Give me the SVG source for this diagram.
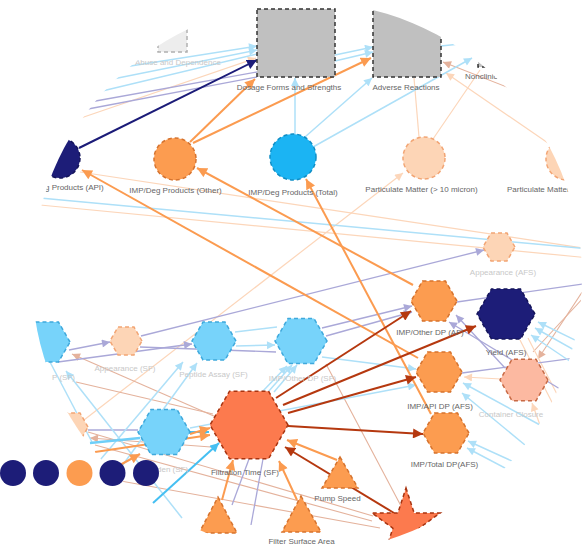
<svg xmlns="http://www.w3.org/2000/svg" width="582" height="550" viewBox="0 0 582 550">
<style>
.n{stroke-width:1.5;stroke-dasharray:4 3}
.orange{fill:#fc9c50;stroke:#d6732e}
.peach{fill:#fdd5b6;stroke:#f2a574}
.lblue{fill:#77d3fa;stroke:#3fa9dc}
.bblue{fill:#1bb4f3;stroke:#0e8ec6}
.navy{fill:#1d1d78;stroke:#14145a}
.coral{fill:#fc7a4e;stroke:#a8330f}
.salmon{fill:#fcb9a1;stroke:#c86a45}
.silver{fill:#c0c0c0;stroke:#333}
.fsilver{fill:#ededed;stroke:#b0b0b0}
.t{font-family:"Liberation Sans",Arial,sans-serif;font-size:8px;fill:#666;text-anchor:middle}
.s{text-anchor:start}
.f{fill:#c8c8c8}
.e{fill:none}
.red{stroke:#b5380f;stroke-width:2;marker-end:url(#mr)}
.or{stroke:#fb9b50;stroke-width:2}
.ora{marker-end:url(#mo)}
.nv{stroke:#1b1b78;stroke-width:2;marker-end:url(#mn)}
.lb{stroke:#aee0f8;stroke-width:1.5}
.lba{marker-end:url(#mlb)}
.bb{stroke:#45bff2;stroke-width:2}
.bba{marker-end:url(#mbb)}
.pu{stroke:#aaa8d8;stroke-width:1.3}
.pua{marker-end:url(#mpu)}
.pe{stroke:#fcd6ba;stroke-width:1.2}
.pea{marker-end:url(#mpe)}
.sa{stroke:#e4b29c;stroke-width:1.1}
.saa{marker-end:url(#msa)}
</style>
<defs>
<clipPath id="view"><circle cx="307" cy="277" r="275"/></clipPath>
<marker id="mr" viewBox="0 0 10 10" refX="10" refY="5" markerWidth="11" markerHeight="10" markerUnits="userSpaceOnUse" orient="auto"><path d="M0,0 L10,5 L0,10 z" fill="#b5380f"/></marker>
<marker id="mo" viewBox="0 0 10 10" refX="10" refY="5" markerWidth="11" markerHeight="10" markerUnits="userSpaceOnUse" orient="auto"><path d="M0,0 L10,5 L0,10 z" fill="#fb9b50"/></marker>
<marker id="mn" viewBox="0 0 10 10" refX="10" refY="5" markerWidth="11" markerHeight="10" markerUnits="userSpaceOnUse" orient="auto"><path d="M0,0 L10,5 L0,10 z" fill="#1b1b78"/></marker>
<marker id="mlb" viewBox="0 0 10 10" refX="10" refY="5" markerWidth="9" markerHeight="8" markerUnits="userSpaceOnUse" orient="auto"><path d="M0,0 L10,5 L0,10 z" fill="#aee0f8"/></marker>
<marker id="mbb" viewBox="0 0 10 10" refX="10" refY="5" markerWidth="10" markerHeight="9" markerUnits="userSpaceOnUse" orient="auto"><path d="M0,0 L10,5 L0,10 z" fill="#45bff2"/></marker>
<marker id="mpu" viewBox="0 0 10 10" refX="10" refY="5" markerWidth="9" markerHeight="8" markerUnits="userSpaceOnUse" orient="auto"><path d="M0,0 L10,5 L0,10 z" fill="#aaa8d8"/></marker>
<marker id="mpe" viewBox="0 0 10 10" refX="10" refY="5" markerWidth="9" markerHeight="8" markerUnits="userSpaceOnUse" orient="auto"><path d="M0,0 L10,5 L0,10 z" fill="#fcd6ba"/></marker>
<marker id="msa" viewBox="0 0 10 10" refX="10" refY="5" markerWidth="9" markerHeight="8" markerUnits="userSpaceOnUse" orient="auto"><path d="M0,0 L10,5 L0,10 z" fill="#e4b29c"/></marker>
</defs>
<rect width="582" height="550" fill="#fff"/>
<g clip-path="url(#view)">
<g id="connectors" fill="none">
<!-- peach / salmon faint -->
<line class="pe" x1="40" y1="205" x2="590" y2="258"/>
<line class="pe" x1="80" y1="172" x2="590" y2="249"/>
<line class="pe pea" x1="78" y1="119" x2="256" y2="58"/>
<line class="pe" x1="419" y1="137" x2="414" y2="78"/>
<line class="pe" x1="433" y1="139" x2="480" y2="70"/>
<line class="pe pea" x1="548" y1="143" x2="446" y2="73"/>
<line class="sa saa" x1="540" y1="100" x2="443" y2="62"/>
<line class="pe pea" x1="84" y1="420" x2="403" y2="173"/>
<line class="sa saa" x1="590" y1="280" x2="538" y2="359"/>
<line class="sa" x1="585" y1="296" x2="533" y2="352"/>
<line class="pe" x1="528" y1="338" x2="560" y2="400"/>
<line class="pe" x1="520" y1="340" x2="556" y2="410"/>
<line class="pe pea" x1="501" y1="379" x2="464" y2="377"/>
<line class="pe pea" x1="540" y1="425" x2="532" y2="403"/>
<line class="sa saa" x1="232" y1="424" x2="72" y2="354"/>
<line class="sa" x1="213" y1="414" x2="76" y2="382"/>
<line class="sa" x1="326" y1="364" x2="401" y2="506"/>
<line class="sa" x1="88" y1="432" x2="373" y2="516"/>
<line class="sa" x1="95" y1="445" x2="372" y2="521"/>
<line class="sa" x1="60" y1="470" x2="380" y2="528"/>
<line class="sa saa" x1="211" y1="447" x2="90" y2="438"/>
<!-- purple -->
<line class="pu" x1="90" y1="102" x2="257" y2="72"/>
<line class="pu" x1="88" y1="109" x2="257" y2="77"/>
<line class="pu pua" x1="69" y1="350" x2="110" y2="342"/>
<line class="pu pua" x1="58" y1="362" x2="192" y2="344"/>
<line class="pu pua" x1="141" y1="336" x2="484" y2="250"/>
<line class="pu" x1="140" y1="347" x2="276" y2="352"/>
<line class="pu pua" x1="322" y1="328" x2="412" y2="306"/>
<line class="pu pua" x1="326" y1="336" x2="412" y2="312"/>
<line class="pu" x1="590" y1="283" x2="457" y2="302"/>
<line class="pu pua" x1="505" y1="368" x2="456" y2="315"/>
<line class="pu pua" x1="565" y1="392" x2="449" y2="322"/>
<line class="pu" x1="462" y1="373" x2="590" y2="356"/>
<line class="pu" x1="88" y1="430" x2="138" y2="430"/>
<line class="pu" x1="232" y1="505" x2="249" y2="459"/>
<line class="pu" x1="251" y1="525" x2="263" y2="459"/>
<!-- light blue -->
<line class="lb" x1="40" y1="198" x2="590" y2="249"/>
<line class="lb lba" x1="118" y1="68" x2="257" y2="46"/>
<line class="lb lba" x1="108" y1="80" x2="257" y2="50"/>
<line class="lb" x1="98" y1="92" x2="257" y2="54"/>
<line class="lb lba" x1="335" y1="55" x2="373" y2="47"/>
<line class="lb lba" x1="335" y1="61" x2="373" y2="52"/>
<line class="lb" x1="441" y1="46" x2="460" y2="44"/>
<line class="lb lba" x1="295" y1="134" x2="295" y2="78"/>
<line class="lb lba" x1="305" y1="137" x2="372" y2="78"/>
<line class="lb lba" x1="313" y1="147" x2="472" y2="58"/>
<line class="lb" x1="235" y1="332" x2="277" y2="327"/>
<line class="lb lba" x1="236" y1="346" x2="275" y2="345"/>
<line class="lb lba" x1="322" y1="357" x2="416" y2="369"/>
<line class="lb lba" x1="190" y1="428" x2="416" y2="385"/>
<line class="lb lba" x1="262" y1="392" x2="287" y2="366"/>
<line class="lb lba" x1="268" y1="392" x2="292" y2="365"/>
<line class="lb lba" x1="274" y1="392" x2="297" y2="365"/>
<line class="lb lba" x1="95" y1="466" x2="183" y2="362"/>
<line class="lb lba" x1="122" y1="466" x2="197" y2="363"/>
<line class="lb" x1="50" y1="362" x2="92" y2="442"/>
<line class="lb lba" x1="182" y1="518" x2="66" y2="371"/>
<line class="lb lba" x1="585" y1="345" x2="538" y2="322"/>
<line class="lb lba" x1="585" y1="356" x2="535" y2="328"/>
<line class="lb lba" x1="580" y1="368" x2="531" y2="335"/>
<line class="lb lba" x1="540" y1="425" x2="463" y2="383"/>
<line class="lb lba" x1="525" y1="445" x2="462" y2="393"/>
<line class="lb lba" x1="525" y1="467" x2="468" y2="441"/>
<line class="lb lba" x1="520" y1="476" x2="467" y2="448"/>
<line stroke="#6fcff8" stroke-width="2.5" x1="90" y1="443" x2="140" y2="438"/>
<!-- bright blue -->
<line class="bb bba" x1="190" y1="432" x2="209" y2="432"/>
<line class="bb bba" x1="153" y1="503" x2="219" y2="443"/>
<!-- orange -->
<line class="or ora" x1="190" y1="142" x2="255" y2="79"/>
<line class="or ora" x1="193" y1="143" x2="371" y2="58"/>
<line class="or ora" x1="418" y1="358" x2="82" y2="170"/>
<line class="or ora" x1="413" y1="285" x2="197" y2="168"/>
<line class="or ora" x1="431" y1="414" x2="306" y2="179"/>
<line class="or ora" x1="297" y1="500" x2="279" y2="461"/>
<line class="or ora" x1="337" y1="460" x2="287" y2="440"/>
<line class="or ora" x1="222" y1="500" x2="233" y2="460"/>
<line class="or ora" x1="190" y1="434" x2="210" y2="428"/>
<line class="or ora" x1="95" y1="452" x2="210" y2="435"/>
<line class="or ora" x1="100" y1="476" x2="140" y2="454"/>
<!-- navy -->
<line class="nv" x1="79" y1="148" x2="257" y2="60"/>
<!-- dark red -->
<line class="red" x1="276" y1="398" x2="411" y2="311"/>
<line class="red" x1="283" y1="405" x2="476" y2="326"/>
<line class="red" x1="288" y1="413" x2="416" y2="377"/>
<line class="red" x1="288" y1="426" x2="423" y2="434"/>
<line class="red" x1="394" y1="513" x2="285" y2="447"/>
</g>
<g id="n-abuse"><rect class="n fsilver" x="158" y="23" width="29" height="29"/><text class="t f s" x="135" y="65">Abuse and Dependence</text></g>
<g id="n-dosage"><rect class="n silver" x="257" y="9" width="78" height="68"/><text class="t" x="289" y="90">Dosage Forms and Strengths</text></g>
<g id="n-adverse"><rect class="n silver" x="373" y="9" width="68" height="68"/><text class="t" x="406" y="90">Adverse Reactions</text></g>
<g id="n-nonclinical"><rect class="n silver" x="478" y="20" width="47" height="47"/><text class="t s" x="465" y="79">Nonclinical</text></g>
<g id="n-deg-api"><circle class="n navy" cx="60" cy="158" r="20"/><text class="t s" x="45" y="190">g Products (API)</text></g>
<g id="n-deg-other"><circle class="n orange" cx="175" cy="159" r="21"/><text class="t" x="175.5" y="193">IMP/Deg Products (Other)</text></g>
<g id="n-deg-total"><circle class="n bblue" cx="293" cy="157" r="23"/><text class="t" x="293" y="195">IMP/Deg Products (Total)</text></g>
<g id="n-pm10"><circle class="n peach" cx="424" cy="158" r="21"/><text class="t" x="421.5" y="192">Particulate Matter (&gt; 10 micron)</text></g>
<g id="n-pm25"><circle class="n peach" cx="567" cy="159" r="21"/><text class="t s" x="507" y="192">Particulate Matter</text></g>
<g id="n-app-afs"><polygon class="n peach" points="515,247 507,233.1 491,233.1 483,247 491,260.9 507,260.9"/><text class="t f" x="503" y="275">Appearance (AFS)</text></g>
<g id="n-other-af"><polygon class="n orange" points="457,301 445.5,281.1 422.5,281.1 411,301 422.5,320.9 445.5,320.9"/><text class="t" x="430" y="335">IMP/Other DP (AF)</text></g>
<g id="n-yield"><polygon class="n navy" points="535,314 520.5,288.9 491.5,288.9 477,314 491.5,339.1 520.5,339.1"/><text class="t" x="506" y="355">Yield (AFS)</text></g>
<g id="n-api-afs"><polygon class="n orange" points="462,372 450.5,352.1 427.5,352.1 416,372 427.5,391.9 450.5,391.9"/><text class="t" x="440" y="409">IMP/API DP (AFS)</text></g>
<g id="n-closure"><polygon class="n salmon" points="548,380 536,359.2 512,359.2 500,380 512,400.8 536,400.8"/><text class="t f" x="511" y="417">Container Closure</text></g>
<g id="n-total-afs"><polygon class="n orange" points="469,433 457.5,413.1 434.5,413.1 423,433 434.5,452.9 457.5,452.9"/><text class="t" x="444.5" y="467">IMP/Total DP(AFS)</text></g>
<g id="n-api-sf"><polygon class="n lblue" points="70,342 58.5,322.1 35.5,322.1 24,342 35.5,361.9 58.5,361.9"/><text class="t f s" x="52" y="380">P (SF)</text></g>
<g id="n-app-sf"><polygon class="n peach" points="142,341 134,327.1 118,327.1 110,341 118,354.9 134,354.9"/><text class="t f" x="125" y="371">Appearance (SF)</text></g>
<g id="n-peptide"><polygon class="n lblue" points="236,341 225,322 203,322 192,341 203,360 225,360"/><text class="t f" x="213.5" y="377">Peptide Assay (SF)</text></g>
<g id="n-other-sf"><polygon class="n lblue" points="327,341 314,318.5 288,318.5 275,341 288,363.5 314,363.5"/><text class="t f" x="302.5" y="381">IMP/Other DP (SF)</text></g>
<g id="n-small"><polygon class="n peach" points="88,427 80,413 64,413 56,427 64,441 80,441"/></g>
<g id="n-bioburden"><polygon class="n lblue" points="190,432 177,409.5 151,409.5 138,432 151,454.5 177,454.5"/><text class="t f s" x="157" y="472">den (SF)</text></g>
<g id="n-filtration"><polygon class="n coral" points="288,425 268.5,391.2 229.5,391.2 210,425 229.5,458.8 268.5,458.8"/><text class="t" x="245" y="475">Filtration Time (SF)</text></g>
<g id="n-pump"><polygon class="n orange" points="340,457 358,488 322,488"/><text class="t" x="337.5" y="501">Pump Speed</text></g>
<g id="n-filter"><polygon class="n orange" points="301,496 321,532 282,532"/><text class="t" x="301.5" y="544">Filter Surface Area</text></g>
<g id="n-tri3"><polygon class="n orange" points="218,497 237,533 199,533"/></g>
<g id="n-star"><polygon class="n coral" points="406,488 414.1,512.9 440.2,512.9 419.1,528.2 427.2,553.1 406,537.8 384.8,553.1 392.9,528.2 371.8,512.9 397.9,512.9"/></g>
</g>
<g id="legend">
<circle cx="13" cy="473" r="13" fill="#1d1d78"/>
<circle cx="46" cy="473" r="13" fill="#1d1d78"/>
<circle cx="79.5" cy="473" r="13" fill="#fc9c50"/>
<circle cx="112.5" cy="473" r="13" fill="#1d1d78"/>
<circle cx="146" cy="473" r="13" fill="#1d1d78"/>
</g>
</svg>
